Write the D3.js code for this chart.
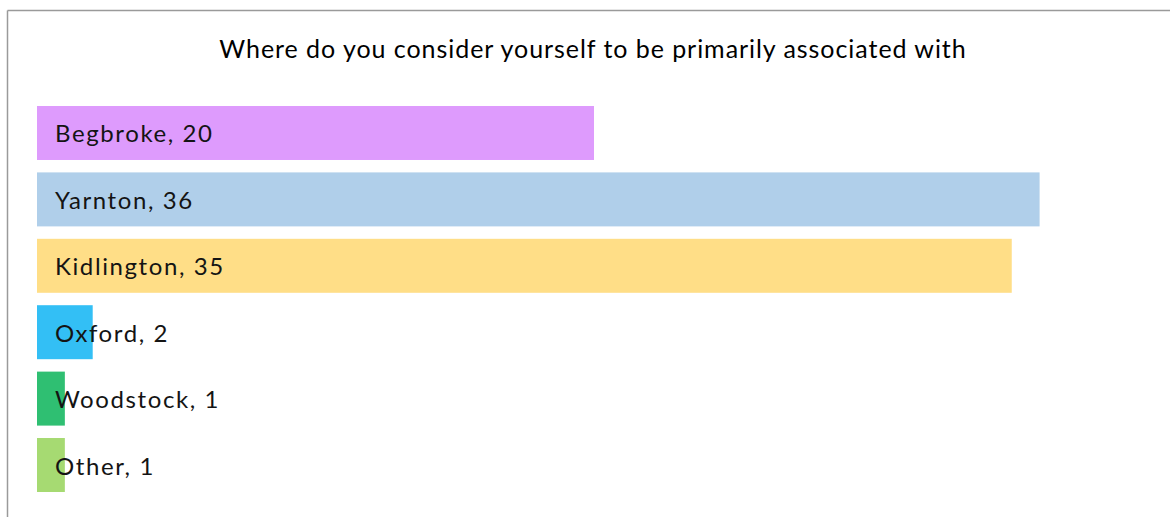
<!DOCTYPE html>
<html>
<head>
<meta charset="utf-8">
<script src="https://cdn.jsdelivr.net/npm/d3@7"></script>
<style>
  html, body { margin: 0; padding: 0; background: #fff; }
  svg { display: block; }
</style>
</head>
<body>
<svg id="chart" width="1170" height="517"></svg>
<script>
const title = "Where do you consider yourself to be primarily associated with";
const categories = ["Begbroke", "Yarnton", "Kidlington", "Oxford", "Woodstock", "Other"];
const values = [20, 36, 35, 2, 1, 1];
const colors = ["#de9bfd", "#b0cfea", "#ffde87", "#33bff5", "#2fbf72", "#a6da72"];

const svg = d3.select("#chart");
const W = 1170, H = 517;
const font = "Lato, 'Noto Sans', sans-serif";

// frame lines (top and left)
svg.append("line").attr("x1", 7.5).attr("x2", W).attr("y1", 10.5).attr("y2", 10.5)
  .attr("stroke", "#9a9a9a").attr("stroke-width", 1.5);
svg.append("line").attr("x1", 7.5).attr("x2", 7.5).attr("y1", 10.5).attr("y2", H)
  .attr("stroke", "#9a9a9a").attr("stroke-width", 1.5);

svg.append("text")
  .attr("x", 593).attr("y", 57.5)
  .attr("text-anchor", "middle")
  .attr("font-family", font)
  .attr("font-size", 25)
  .attr("letter-spacing", 0.95)
  .attr("fill", "#000")
  .text(title);

const x = d3.scaleLinear().domain([0, 20]).range([37, 594]);
const y = d3.scaleBand().domain(categories).range([106, 492]).paddingInner(0.187).paddingOuter(0);

const data = categories.map((c, i) => ({ name: c, value: values[i], color: colors[i] }));

const g = svg.append("g");
g.selectAll("rect").data(data).join("rect")
  .attr("x", x(0))
  .attr("y", d => y(d.name))
  .attr("width", d => x(d.value) - x(0))
  .attr("height", y.bandwidth())
  .attr("fill", d => d.color);

g.selectAll("text.lbl").data(data).join("text")
  .attr("class", "lbl")
  .attr("x", x(0) + 18)
  .attr("y", d => y(d.name) + y.bandwidth() / 2 + 9.5)
  .attr("font-family", font)
  .attr("font-size", 24)
  .attr("letter-spacing", 1.6)
  .attr("fill", "#141414")
  .text(d => `${d.name}, ${d.value}`);
</script>
</body>
</html>
